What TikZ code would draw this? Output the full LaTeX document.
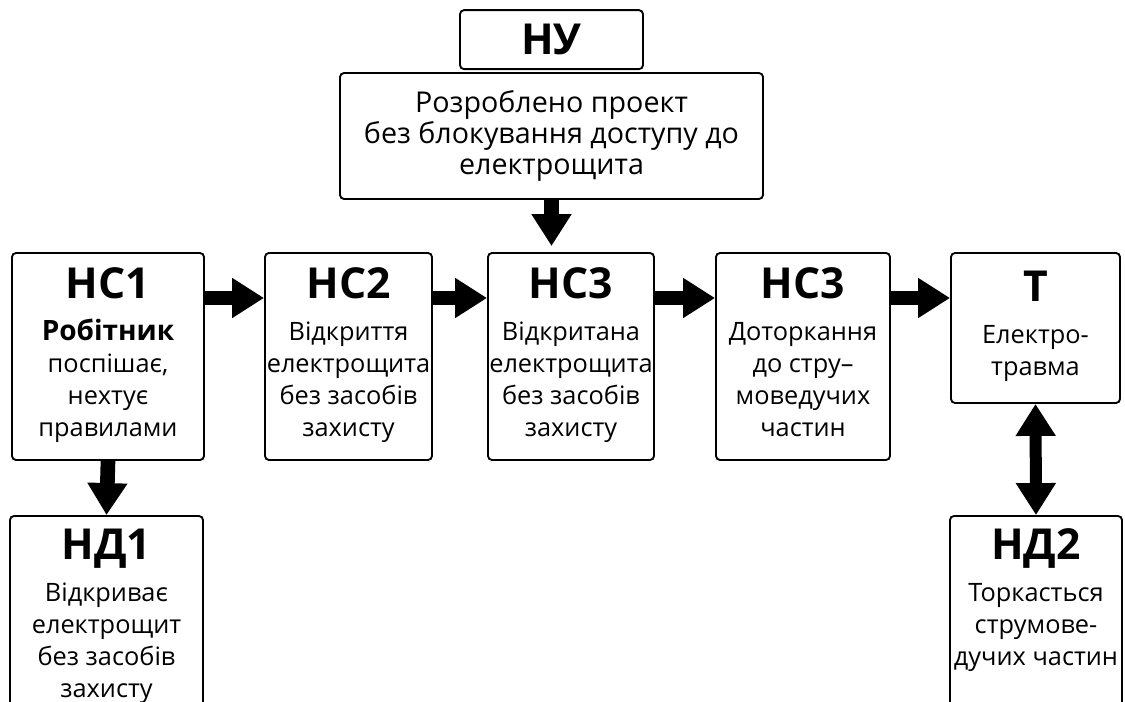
\documentclass[tikz,border=0pt]{standalone}
\usepackage{fontspec}
\setmainfont{Open Sans}
\usetikzlibrary{arrows.meta,positioning}

\newcommand{\boxtitle}[1]{{\fontsize{32}{36}\selectfont\bfseries #1}\\[7.5pt]}

\tikzset{
  block/.style={draw, line width=1.4pt, rounded corners=3pt, align=center,
    inner sep=0pt, font=\fontsize{19}{24}\selectfont},
  bigarrow/.style={line width=11pt, -{Triangle[width=28.5pt,length=24pt]}},
  duoarrow/.style={line width=9pt,
    {Triangle[width=28.5pt,length=24pt]}-{Triangle[width=28.5pt,length=24pt]}}
}

\begin{document}
\begin{tikzpicture}[x=0.75pt,y=-0.75pt]
  \useasboundingbox (0,0) rectangle (1125,702);
  \clip (0,0) rectangle (1125,702);
  %% top block
  \node[block, minimum width=317.25pt, minimum height=94.5pt,
    font=\fontsize{21.5}{23.5}\selectfont] (nu) at (551.5,136)
    {Розроблено проект\\ без блокування доступу до\\ електрощита};
  \node[block, minimum width=137.25pt, minimum height=44.25pt, anchor=south,
    font=\fontsize{32}{36}\selectfont\bfseries] (nutab) at ([yshift=1.5pt]nu.north) {НУ};
  %% main row
  \node[block, minimum width=144pt, minimum height=155.25pt] (hc1) at (108,356.5)
    {\boxtitle{НС1}{\fontsize{21}{24}\selectfont\bfseries Робітник}\\ поспішає,\\ нехтує\\ правилами\strut};
  \node[block, minimum width=125.25pt, minimum height=155.25pt] (hc2) at (348.5,356.5)
    {\boxtitle{НС2}Відкриття\\ електрощита\\ без засобів\\ захисту\strut};
  \node[block, minimum width=124.5pt, minimum height=155.25pt] (hc3) at (571,356.5)
    {\boxtitle{НС3}Відкритана\\ електрощита\\ без засобів\\ захисту\strut};
  \node[block, minimum width=130.5pt, minimum height=155.25pt] (hc4) at (803,356.5)
    {\boxtitle{НС3}Доторкання\\ до стру--\\ моведучих\\ частин\strut};
  \node[block, minimum width=126.75pt, minimum height=112.5pt] (t) at (1035.5,328)
    {\boxtitle{Т}Електро-\\ травма\strut};
  %% bottom row
  \node[block, minimum width=144.75pt, minimum height=153pt] (hd1) at (106.5,618)
    {\boxtitle{НД1}Відкриває\\ електрощит\\ без засобів\\ захисту\strut};
  \node[block, minimum width=129pt, minimum height=153pt] (hd2) at (1036,618)
    {\boxtitle{НД2}Торкасться\\ струмове-\\ дучих частин\\ \strut};
  %% arrows
  \coordinate (row) at (0,298);
  \draw[bigarrow] (hc1.east |- row) -- (hc2.west |- row);
  \draw[bigarrow] (hc2.east |- row) -- (hc3.west |- row);
  \draw[bigarrow] (hc3.east |- row) -- (hc4.west |- row);
  \draw[bigarrow] (hc4.east |- row) -- (t.west |- row);
  \draw[bigarrow] (nu.south) -- ([yshift=4.5pt]nu.south |- hc3.north);
  \draw[bigarrow] (hc1.south) -- (hd1.north);
  \draw[duoarrow] (t.south) -- (hd2.north);
\end{tikzpicture}
\end{document}
